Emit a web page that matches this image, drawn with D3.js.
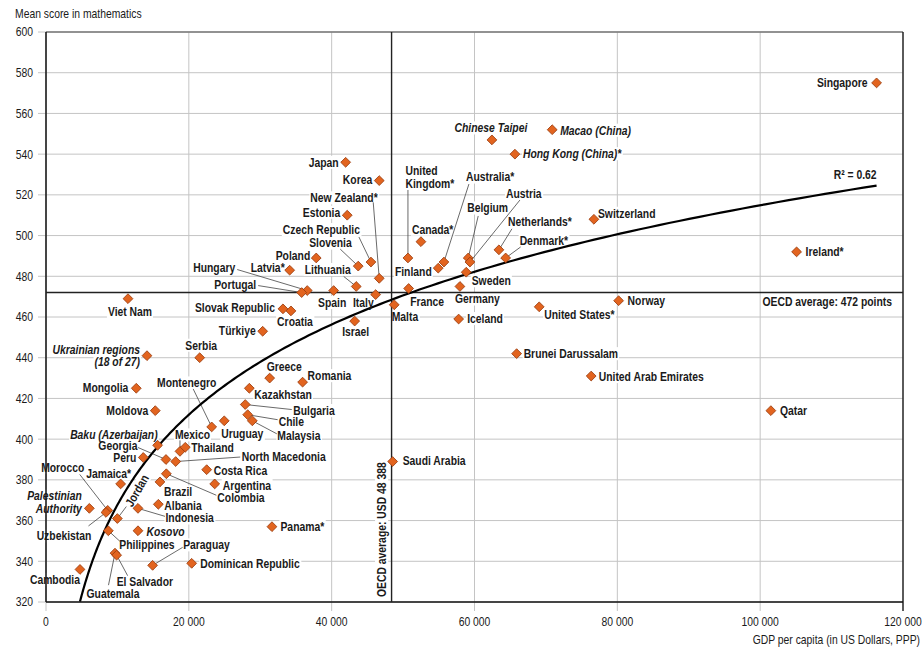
<!DOCTYPE html>
<html>
<head>
<meta charset="utf-8">
<script src="https://cdn.jsdelivr.net/npm/d3@7"></script>
<style>
  body { margin: 0; background: #fff; }
  svg text { font-family: "Liberation Sans Narrow", "Arial Narrow", "Liberation Sans", Arial, sans-serif; fill: #1a1a1a; }
</style>
</head>
<body>
<div id="chart"></div>
<script>
// values
const countries = ["Singapore", "Macao (China)", "Chinese Taipei", "Hong Kong (China)*", "Japan", "Korea", "Estonia",
  "Switzerland", "Canada*", "Netherlands*", "Ireland*", "Belgium", "Denmark*", "United Kingdom*", "Poland", "Austria",
  "Australia*", "Czech Republic", "Slovenia", "Finland", "Latvia*", "Sweden", "New Zealand*", "Lithuania", "Germany",
  "France", "Spain", "Hungary", "Portugal", "Italy", "Viet Nam", "Norway", "Malta", "United States*", "Slovak Republic",
  "Croatia", "Iceland", "Israel", "Türkiye", "Brunei Darussalam", "Ukrainian regions (18 of 27)", "Serbia",
  "United Arab Emirates", "Greece", "Romania", "Kazakhstan", "Mongolia", "Bulgaria", "Moldova", "Qatar", "Chile",
  "Uruguay", "Malaysia", "Montenegro", "Baku (Azerbaijan)", "Mexico", "Thailand", "Peru", "Georgia", "Saudi Arabia",
  "North Macedonia", "Costa Rica", "Colombia", "Brazil", "Argentina", "Jamaica*", "Albania", "Palestinian Authority",
  "Indonesia", "Morocco", "Uzbekistan", "Jordan", "Panama*", "Kosovo", "Philippines", "Guatemala", "El Salvador",
  "Dominican Republic", "Paraguay", "Cambodia"];

const gdp = [116300, 70880, 62440, 65660, 41960, 46660, 42180,
  76720, 52500, 63420, 105100, 59120, 64360, 50680, 37840, 59360,
  55720, 45500, 43720, 54920, 34120, 58840, 46660, 43440, 57960,
  50780, 40280, 36580, 35800, 46160, 11480, 80180, 48760, 69060, 33180,
  34300, 57780, 43220, 30340, 65900, 14140, 21520,
  76340, 31320, 35930, 28470, 12640, 27900, 15300, 101500, 28240,
  24960, 28890, 23200, 15630, 18760, 19500, 13620, 16800, 48540,
  18160, 22500, 16850, 15960, 23620, 10450, 15730, 6070,
  12880, 8640, 8400, 9990, 31640, 12880, 8730, 9660, 9890,
  20400, 14930, 4760];

const maths = [575, 552, 547, 540, 536, 527, 510,
  508, 497, 493, 492, 489, 489, 489, 489, 487,
  487, 487, 485, 484, 483, 482, 479, 475, 475,
  474, 473, 473, 472, 471, 469, 468, 466, 465, 464,
  463, 459, 458, 453, 442, 441, 440,
  431, 430, 428, 425, 425, 417, 414, 414, 412,
  409, 409, 406, 397, 394, 396, 391, 390, 389,
  389, 385, 383, 379, 378, 378, 368, 366,
  366, 365, 364, 361, 357, 355, 355, 344, 343,
  339, 338, 336];

const xTicks = [0, 20000, 40000, 60000, 80000, 100000, 120000];
const yTicks = [320, 340, 360, 380, 400, 420, 440, 460, 480, 500, 520, 540, 560, 580, 600];
const oecdGdp = 48388;
const oecdMath = 472;
const r2 = 0.62;

// label placement, pixel offsets from the marker: [dx, dy, anchor, leader end, options]
const layout = {
  "Singapore": [-9, 0, "end"],
  "Macao (China)": [8, 0.5, "start", null, {it: 1}],
  "Chinese Taipei": [-1, -12, "middle", null, {it: 1}],
  "Hong Kong (China)*": [8, -0.5, "start", null, {it: 1}],
  "Japan": [-7, 0, "end"],
  "Korea": [-7, -1, "end"],
  "Estonia": [-7, -3, "end"],
  "Switzerland": [4, -6, "start"],
  "Canada*": [-9, -12.5, "start"],
  "Netherlands*": [9, -28.5, "start", [13, -21]],
  "Ireland*": [9, 0, "start"],
  "Belgium": [-1, -50, "start", [10, -42]],
  "Denmark*": [14, -17.5, "start", [15, -11]],
  "United Kingdom*": [-2.5, -87, "start", [0, -68], {wrap: 1}],
  "Poland": [-6, -2, "end"],
  "Austria": [36, -68.5, "start", [50, -62]],
  "Australia*": [22, -85, "start", [25, -78]],
  "Czech Republic": [-11, -32.5, "end", [-12, -25]],
  "Slovenia": [-6.5, -23, "end", [-18, -17]],
  "Finland": [-6.5, 3.5, "end"],
  "Latvia*": [-5, -2.5, "end"],
  "Sweden": [5.5, 8.5, "start"],
  "New Zealand*": [-1.5, -80.5, "end", [-6, -76]],
  "Lithuania": [-5.5, -17, "end", [-12.5, -10]],
  "Germany": [-5, 12.5, "start"],
  "France": [1.5, 13.5, "start"],
  "Spain": [-1.5, 12, "middle"],
  "Hungary": [-72, -22.5, "end", [-70, -21]],
  "Portugal": [-45.5, -8, "end", [-43.5, -7]],
  "Italy": [-2, 8.5, "end"],
  "Viet Nam": [2, 13, "middle"],
  "Norway": [9, 0, "start"],
  "Malta": [-2.5, 12, "start"],
  "United States*": [5, 8, "start"],
  "Slovak Republic": [-8, -1, "end"],
  "Croatia": [4, 11, "middle"],
  "Iceland": [8.5, -0.5, "start"],
  "Israel": [1, 11, "middle"],
  "Türkiye": [-7, -1, "end"],
  "Brunei Darussalam": [7, 0, "start"],
  "Ukrainian regions (18 of 27)": [-7, -6.5, "end", null, {it: 1, wrap: 2}],
  "Serbia": [1.5, -12.5, "middle"],
  "United Arab Emirates": [7.5, 0.5, "start"],
  "Greece": [-3, -11, "start"],
  "Romania": [5, -6.5, "start"],
  "Kazakhstan": [5, 6.5, "start"],
  "Mongolia": [-8, -1, "end"],
  "Bulgaria": [48, 6, "start", [46.5, 5]],
  "Moldova": [-7, 0, "end"],
  "Qatar": [9, 0, "start"],
  "Chile": [31, 6.5, "start", [30, 5]],
  "Uruguay": [-3, 13, "start"],
  "Malaysia": [25, 14.5, "start", [24.5, 13]],
  "Montenegro": [-25, -44, "middle", [-18.5, -38]],
  "Baku (Azerbaijan)": [0, -11, "end", null, {it: 1}],
  "Mexico": [12.5, -16.5, "middle", [0, -11]],
  "Thailand": [6, 0, "start"],
  "Peru": [-7, 0, "end"],
  "Georgia": [-28.5, -14, "end", [-28, -12]],
  "Saudi Arabia": [10, -1, "start"],
  "North Macedonia": [66, -4.5, "start", [64.5, -4.5]],
  "Costa Rica": [7, 1, "start"],
  "Colombia": [51, 24, "start", [50, 21.5]],
  "Brazil": [4, 10, "start"],
  "Argentina": [8, 1.5, "start"],
  "Jamaica*": [10.5, -10.5, "end"],
  "Albania": [6, 1, "start"],
  "Palestinian Authority": [-7.5, -12.5, "end", null, {it: 1, wrap: 1}],
  "Indonesia": [27.5, 9.6, "start", [27, 8]],
  "Morocco": [-45, -43, "middle", [-28, -36]],
  "Uzbekistan": [-42, 23.5, "middle", [-17.5, 13.5]],
  "Jordan": [11, -13, "start", [9, -12], {rot: -60}],
  "Panama*": [8.5, -0.5, "start"],
  "Kosovo": [8.5, 1, "start", null, {it: 1}],
  "Philippines": [11, 13.5, "start", [11.5, 10.5]],
  "Guatemala": [-2, 40.5, "middle", [-6.5, 32]],
  "El Salvador": [0, 26, "start", [11, 20.5]],
  "Dominican Republic": [8.5, 0, "start"],
  "Paraguay": [30.5, -20.5, "start", [30, -18]],
  "Cambodia": [0, 10, "end"]
};

const w = 924, h = 654;
const m = {l: 46, r: 21, t: 32, b: 52};
const narrowness = 0.83; // the source face is a narrow sans, so squeeze horizontally
const data = countries.map((c, i) => ({name: c, gdp: gdp[i], score: maths[i]}));

const x = d3.scaleLinear().domain([0, 120000]).range([m.l, w - m.r]);
const y = d3.scaleLinear().domain([320, 600]).range([h - m.b, m.t]);
const fmt = d3.formatLocale({decimal: ".", thousands: " ", grouping: [3], currency: ["", ""]}).format(",d");

const svg = d3.select("#chart").append("svg").attr("width", w).attr("height", h);

// grid + ticks
const grid = svg.append("g").attr("stroke", "#c4c4c4").attr("stroke-width", 1);
grid.selectAll(".gx").data(xTicks).join("line")
  .attr("x1", d => x(d)).attr("x2", d => x(d))
  .attr("y1", m.t).attr("y2", h - m.b + 9);
grid.selectAll(".gy").data(yTicks).join("line")
  .attr("x1", m.l - 8).attr("x2", w - m.r)
  .attr("y1", d => y(d)).attr("y2", d => y(d));

// frame
svg.append("line").attr("x1", m.l).attr("x2", w - m.r).attr("y1", m.t).attr("y2", m.t).attr("stroke", "#777").attr("stroke-width", 1.3);
svg.append("line").attr("x1", w - m.r).attr("x2", w - m.r).attr("y1", m.t).attr("y2", h - m.b + 9).attr("stroke", "#111").attr("stroke-width", 1.3);

const bgLayer = svg.append("g");
const leaderLayer = svg.append("g").attr("stroke", "#444").attr("stroke-width", 0.8);
const refLayer = svg.append("g");
const markLayer = svg.append("g");
const textLayer = svg.append("g");

// one text, squeezed, optionally with a white box behind it
function place(px, py, str, o = {}) {
  const tf = `translate(${px},${py})` + (o.rot ? ` rotate(${o.rot})` : "") + ` scale(${narrowness},1)`;
  const t = textLayer.append("g").attr("transform", tf).append("text")
    .attr("text-anchor", o.anchor || "start").attr("font-size", 12.5)
    .attr("font-weight", o.bold ? "bold" : "normal").attr("font-style", o.it ? "italic" : "normal")
    .attr("dy", o.dy == null ? "0.35em" : o.dy).text(str);
  if (o.bg) {
    const bb = t.node().getBBox();
    bgLayer.append("rect").attr("transform", tf)
      .attr("x", bb.x - 1.2).attr("y", bb.y).attr("width", bb.width + 2.4).attr("height", bb.height)
      .attr("fill", "#fff");
  }
  return t;
}

yTicks.forEach(d => place(m.l - 13, y(d), d, {anchor: "end"}));
xTicks.forEach(d => place(x(d), h - m.b + 24, fmt(d), {anchor: "middle", dy: 0}));
place(15, 14, "Mean score in mathematics");
place(w - 4, h - 14, "GDP per capita (in US Dollars, PPP)", {anchor: "end"});

// axes
refLayer.append("line").attr("x1", m.l).attr("x2", m.l).attr("y1", m.t).attr("y2", h - m.b).attr("stroke", "#111").attr("stroke-width", 1.5);
refLayer.append("line").attr("x1", m.l).attr("x2", w - m.r).attr("y1", h - m.b).attr("y2", h - m.b).attr("stroke", "#111").attr("stroke-width", 1.5);

// OECD averages
refLayer.append("line").attr("x1", m.l).attr("x2", w - m.r).attr("y1", y(oecdMath)).attr("y2", y(oecdMath))
  .attr("stroke", "#222").attr("stroke-width", 1.4);
refLayer.append("line").attr("x1", x(oecdGdp)).attr("x2", x(oecdGdp)).attr("y1", m.t).attr("y2", h - m.b)
  .attr("stroke", "#222").attr("stroke-width", 1.4);

// log trend, least squares on ln(gdp)
const lx = data.map(d => Math.log(d.gdp));
const mx = d3.mean(lx), my = d3.mean(maths);
const b = d3.sum(lx, (v, i) => (v - mx) * (maths[i] - my)) / d3.sum(lx, v => (v - mx) * (v - mx));
const a = my - b * mx;
const [gMin, gMax] = d3.extent(gdp);
const curve = d3.range(0, 201).map(i => {
  const g = gMin * Math.pow(gMax / gMin, i / 200);
  return [g, a + b * Math.log(g)];
});
svg.append("clipPath").attr("id", "plot").append("rect")
  .attr("x", m.l).attr("y", m.t).attr("width", w - m.l - m.r).attr("height", h - m.t - m.b);
refLayer.append("path").attr("clip-path", "url(#plot)")
  .attr("d", d3.line().x(d => x(d[0])).y(d => y(d[1]))(curve))
  .attr("fill", "none").attr("stroke", "#000").attr("stroke-width", 2.2);

// markers
markLayer.selectAll("path").data(data).join("path")
  .attr("transform", d => `translate(${x(d.gdp)},${y(d.score)}) rotate(45)`)
  .attr("d", d3.symbol().type(d3.symbolSquare).size(48))
  .attr("fill", "#e2641f").attr("stroke", "#9a3c0e").attr("stroke-width", 0.8);

// country labels
data.forEach(d => {
  const [dx, dy, anchor, leader, opts = {}] = layout[d.name];
  const px = x(d.gdp), py = y(d.score);
  let lines = [d.name];
  if (opts.wrap) {
    const words = d.name.split(" ");
    lines = [words.slice(0, opts.wrap).join(" "), words.slice(opts.wrap).join(" ")];
  }
  if (leader) {
    leaderLayer.append("line").attr("x1", px).attr("y1", py).attr("x2", px + leader[0]).attr("y2", py + leader[1]);
  }
  lines.forEach((ln, i) => place(px + dx, py + dy + i * 12.5, ln,
    {anchor, bold: 1, it: opts.it, rot: opts.rot, bg: 1}));
});

place(x(oecdGdp) - 10, h - m.b - 5, "OECD average: USD 48 388", {rot: -90, bold: 1, bg: 1});
place(w - m.r - 11, y(oecdMath) + 9, "OECD average: 472 points", {anchor: "end", bold: 1, bg: 1});
place(x(gMax), y(a + b * Math.log(gMax)) - 11, `R² = ${r2}`, {anchor: "end", bold: 1, bg: 1});
</script>
</body>
</html>
